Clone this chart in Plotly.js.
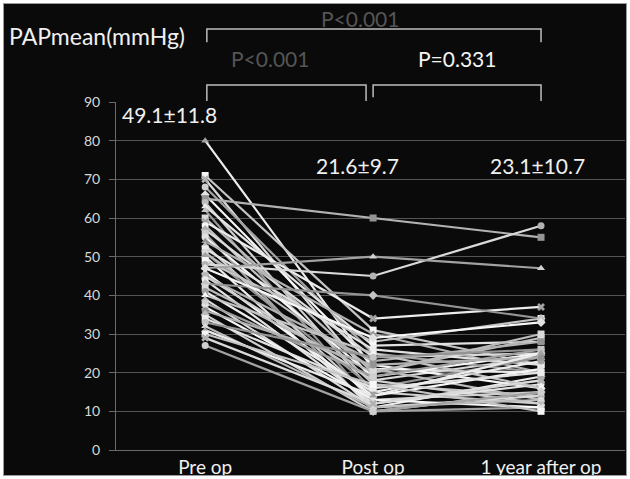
<!DOCTYPE html>
<html>
<head>
<meta charset="utf-8">
<script src="https://cdn.plot.ly/plotly-3.0.1.min.js"></script>
<style>
  html, body { margin: 0; padding: 0; background: #ffffff; }
  #wrap { position: relative; width: 630px; height: 479px; }
  #chart { width: 630px; height: 479px; }
  #frame { position: absolute; left: 0; top: 0; width: 630px; height: 479px; box-sizing: border-box;
           border: 3px solid #ffffff; box-shadow: inset 0 0 0 1px #9a9a9a; pointer-events: none; }
</style>
</head>
<body>
<div id="wrap"><div id="chart"></div><div id="frame"></div></div>
<script>
// ---- data ----
const categories = ['Pre op', 'Post op', '1 year after op'];
const preOp   = [80, 71, 70, 68, 66, 65, 64, 63, 62, 60, 59, 58, 57, 56, 55, 54, 53, 52, 51, 51, 50, 49, 48, 47, 46, 45, 45, 44, 43, 42, 41, 40, 39, 38, 37, 36, 35, 34, 33, 32, 31, 30, 29, 27, 47];
const postOp  = [21, 31, 18, 25, 22, 60, 15, 27, 12, 20, 34, 17, 24, 10, 19, 30, 13, 26, 16, 21, 11, 28, 45, 50, 14, 23, 18, 12, 40, 20, 15, 25, 11, 19, 13, 22, 10, 16, 24, 11, 14, 17, 12, 10, 29];
const oneYear = [20, 22, 24, 20, 16, 55, 12, 28, 18, 29, 37, 14, 25, 11, 25, 20, 15, 22, 24, 13, 19, 34, 58, 47, 21, 28, 12, 17, 34, 30, 23, 16, 14, 26, 11, 24, 15, 20, 26, 13, 25, 10, 18, 15, 33];
const yTicks = [0, 10, 20, 30, 40, 50, 60, 70, 80, 90];
const statLabels = ['49.1\u00b111.8', '21.6\u00b19.7', '23.1\u00b110.7'];
const pLabels = ['P<0.001', 'P<0.001', 'P=0.331'];

// ---- styles ----
const grays = ['#ececec', '#c4c4c4', '#dadada', '#a2a2a2', '#f6f6f6', '#b2b2b2', '#d0d0d0', '#e2e2e2', '#949494', '#bcbcbc'];
const symbols = ['triangle-up', 'square', 'x', 'circle', 'diamond', 'square', 'circle', 'triangle-up'];
const FONT = 'Lato, "Open Sans", sans-serif';

const traces = preOp.map((v, i) => ({
  type: 'scatter',
  mode: 'lines+markers',
  x: categories,
  y: [preOp[i], postOp[i], oneYear[i]],
  line: { color: grays[i % grays.length], width: 2.2 },
  marker: { symbol: symbols[i % symbols.length], size: 7, color: grays[(i + 3) % grays.length] },
  showlegend: false,
  hoverinfo: 'y'
}));

const xRange = [-0.531, 2.5];
const brX = (idx) => (idx - xRange[0]) / (xRange[1] - xRange[0]);

const bracketColor = '#bdbdbd';
const shapes = [
  { type: 'path', xref: 'paper', yref: 'paper',
    path: `M ${brX(0.01)} 1.172 L ${brX(0.01)} 1.21 L ${brX(2.0)} 1.21 L ${brX(2.0)} 1.172`,
    line: { color: bracketColor, width: 1.5 } },
  { type: 'path', xref: 'paper', yref: 'paper',
    path: `M ${brX(0.01)} 1.003 L ${brX(0.01)} 1.049 L ${brX(0.958)} 1.049 L ${brX(0.958)} 1.003`,
    line: { color: bracketColor, width: 1.5 } },
  { type: 'path', xref: 'paper', yref: 'paper',
    path: `M ${brX(1.0)} 1.014 L ${brX(1.0)} 1.049 L ${brX(2.0)} 1.049 L ${brX(2.0)} 1.003`,
    line: { color: bracketColor, width: 1.5 } }
];

const annotations = [
  { text: statLabels[0], xref: 'x', yref: 'y', x: -0.215, y: 86.8, showarrow: false, yanchor: 'middle', font: { family: FONT, size: 21, color: '#f0f0f0' } },
  { text: statLabels[1], xref: 'x', yref: 'y', x: 0.908, y: 73.6, showarrow: false, yanchor: 'middle', font: { family: FONT, size: 21, color: '#f0f0f0' } },
  { text: statLabels[2], xref: 'x', yref: 'y', x: 1.976, y: 73.6, showarrow: false, yanchor: 'middle', font: { family: FONT, size: 21, color: '#f0f0f0' } },
  { text: pLabels[0], xref: 'x', yref: 'paper', x: 0.922, y: 1.241, showarrow: false, xanchor: 'center', yanchor: 'middle', font: { family: FONT, size: 21, color: '#555555' } },
  { text: pLabels[1], xref: 'x', yref: 'paper', x: 0.386, y: 1.126, showarrow: false, xanchor: 'center', yanchor: 'middle', font: { family: FONT, size: 21, color: '#555555' } },
  { text: pLabels[2], xref: 'x', yref: 'paper', x: 1.5, y: 1.126, showarrow: false, xanchor: 'center', yanchor: 'middle', font: { family: FONT, size: 21, color: '#f5f5f5' } }
];

const layout = {
  width: 630, height: 479,
  paper_bgcolor: '#0a0a0a', plot_bgcolor: '#0a0a0a',
  margin: { l: 116, r: 5, t: 102, b: 29 },
  title: { text: 'PAPmean(mmHg)', x: 0.0143, xanchor: 'left', xref: 'container',
           y: 0.923, yanchor: 'middle', yref: 'container',
           font: { family: FONT, size: 23, color: '#f0f0f0' } },
  xaxis: {
    type: 'category', range: xRange, showgrid: false, zeroline: false,
    showline: true, linecolor: '#6a6a6a', linewidth: 1,
    tickfont: { family: FONT, size: 19, color: '#f0f0f0' }, ticks: '', ticklabelstandoff: 0
  },
  yaxis: {
    range: [0, 90], tickvals: yTicks, showgrid: true, gridcolor: '#555555', gridwidth: 1,
    zeroline: false, showline: true, linecolor: '#6a6a6a', linewidth: 1,
    ticks: 'outside', ticklen: 6, tickcolor: '#6a6a6a',
    tickfont: { family: FONT, size: 14, color: '#d8d8d8' }, ticklabelstandoff: 6
  },
  shapes: shapes,
  annotations: annotations,
  font: { family: FONT, color: '#f0f0f0' }
};

Plotly.newPlot('chart', traces, layout, { displayModeBar: false, staticPlot: true });
</script>
</body>
</html>
